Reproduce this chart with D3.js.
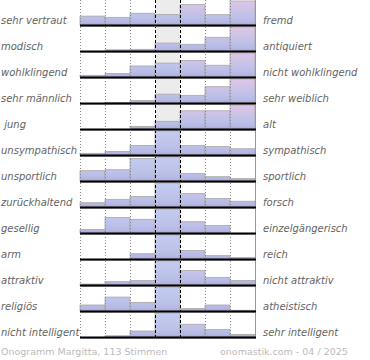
<!DOCTYPE html>
<html><head><meta charset="utf-8">
<script src="https://cdn.jsdelivr.net/npm/d3@7"></script>
<style>html,body{margin:0;padding:0;background:#fff;}svg{display:block;}</style>
</head><body>
<svg id="chart" width="370" height="360"></svg>
<script>
const leftLabels = ["sehr vertraut","modisch","wohlklingend","sehr männlich"," jung","unsympathisch","unsportlich","zurückhaltend","gesellig","arm","attraktiv","religiös","nicht intelligent"];
const rightLabels = ["fremd","antiquiert","nicht wohlklingend","sehr weiblich","alt","sympathisch","sportlich","forsch","einzelgängerisch","reich","nicht attraktiv","atheistisch","sehr intelligent"];
const columns = [1,2,3,4,5,6,7];
// relative heights (percent of row maximum) per scale, columns 1..7
const rowVertraut    = [37, 32, 49, 44, 85, 43, 100];
const rowModisch     = [0, 5, 7, 33, 28, 57, 100];
const rowKlang       = [7, 15, 46, 58, 69, 49, 100];
const rowMaennlich   = [0, 2, 10, 37, 32, 68, 100];
const rowJung        = [0, 0, 11, 32, 76, 76, 100];
const rowSympathisch = [7, 15, 40, 100, 39, 35, 26];
const rowSportlich   = [43, 47, 94, 100, 31, 18, 10];
const rowForsch      = [18, 32, 44, 100, 56, 35, 24];
const rowGesellig    = [15, 65, 57, 100, 47, 31, 0];
const rowArm         = [0, 0, 22, 100, 35, 14, 6];
const rowAttraktiv   = [4, 14, 19, 100, 60, 32, 19];
const rowReligioes   = [25, 58, 36, 100, 10, 25, 3];
const rowIntelligent = [0, 5, 25, 100, 53, 31, 11];
const rowValues = [rowVertraut,rowModisch,rowKlang,rowMaennlich,rowJung,rowSympathisch,rowSportlich,rowForsch,rowGesellig,rowArm,rowAttraktiv,rowReligioes,rowIntelligent];
const footerLeft = "Onogramm Margitta, 113 Stimmen";
const footerRight = "onomastik.com - 04 / 2025";

const svg = d3.select("#chart");
const x = d3.scaleBand().domain(columns).range([80,255]).paddingInner(0).paddingOuter(0);
const y = d3.scaleBand().domain(d3.range(leftLabels.length)).range([-1,337]).padding(0);
const h = d3.scaleLinear().domain([0,100]).range([0,24]);
const base = i => y(i) + y.bandwidth();

const defs = svg.append("defs");
leftLabels.forEach((_, i) => {
  const mk = (id, top) => {
    const g = defs.append("linearGradient").attr("id", id)
      .attr("gradientUnits","userSpaceOnUse")
      .attr("x1",0).attr("x2",0).attr("y1", base(i)-24).attr("y2", base(i));
    g.append("stop").attr("offset","0%").attr("stop-color", top);
    g.append("stop").attr("offset","70%").attr("stop-color","#bcc0e8");
    g.append("stop").attr("offset","92%").attr("stop-color","#b4b6e2");
    g.append("stop").attr("offset","100%").attr("stop-color","#a898cc");
  };
  mk("gl"+i, "#c4ccf0");
  mk("gr"+i, "#e0c6e6");
});

// middle column background
svg.append("rect").attr("x", x(4)).attr("y", 0).attr("width", x.bandwidth()).attr("height", 337).attr("fill","#ececec");

// bars
const rowsG = svg.selectAll("g.row").data(rowValues).join("g").attr("class","row");
rowsG.each(function(vals, i){
  d3.select(this).selectAll("rect").data(vals.map((v,j)=>({v, c: columns[j]})).filter(d=>d.v>0))
    .join("rect")
    .attr("x", d => x(d.c))
    .attr("y", d => base(i) - h(d.v))
    .attr("width", x.bandwidth())
    .attr("height", d => h(d.v))
    .attr("fill", d => d.c >= 5 ? `url(#gr${i})` : `url(#gl${i})`)
    .attr("stroke","#a8a8a8").attr("stroke-width",0.8);
});

// grid lines
[1,2,3,6,7].forEach(c => {
  svg.append("line").attr("x1", x(c)+0.5).attr("x2", x(c)+0.5).attr("y1",0).attr("y2",338)
    .attr("stroke","#8a8a8a").attr("stroke-width",1).attr("stroke-dasharray","1,2");
});
svg.append("line").attr("x1", x.range()[1]+0.5).attr("x2", x.range()[1]+0.5).attr("y1",0).attr("y2",338)
  .attr("stroke","#999").attr("stroke-width",1);
[4,5].forEach(c => {
  svg.append("line").attr("x1", x(c)+0.5).attr("x2", x(c)+0.5).attr("y1",0).attr("y2",338)
    .attr("stroke","#000").attr("stroke-width",1).attr("stroke-dasharray","3,2");
});

// baselines
leftLabels.forEach((_, i) => {
  svg.append("line").attr("x1",80).attr("x2",256).attr("y1",base(i)+1.5).attr("y2",base(i)+1.5)
    .attr("stroke","#bbb").attr("stroke-width",1);
  svg.append("line").attr("x1",80).attr("x2",256).attr("y1",base(i)+0.5).attr("y2",base(i)+0.5)
    .attr("stroke","#000").attr("stroke-width",1.8);
});

// labels
const font = "'DejaVu Sans', Verdana, sans-serif";
svg.selectAll("text.l").data(leftLabels).join("text").attr("class","l")
  .attr("x",1).attr("y",(d,i)=>base(i)-1).text(d=>d)
  .attr("font-family",font).attr("font-size",10).attr("font-style","italic").attr("fill","#636363")
  .attr("xml:space","preserve").style("white-space","pre");
svg.selectAll("text.r").data(rightLabels).join("text").attr("class","r")
  .attr("x",263).attr("y",(d,i)=>base(i)-1).text(d=>d)
  .attr("font-family",font).attr("font-size",10).attr("font-style","italic").attr("fill","#636363");

svg.append("text").attr("x",1).attr("y",355).text(footerLeft)
  .attr("font-family",font).attr("font-size",9.5).attr("fill","#bbb");
svg.append("text").attr("x",220).attr("y",355).text(footerRight)
  .attr("font-family",font).attr("font-size",9.5).attr("fill","#bbb");
</script>
</body></html>
